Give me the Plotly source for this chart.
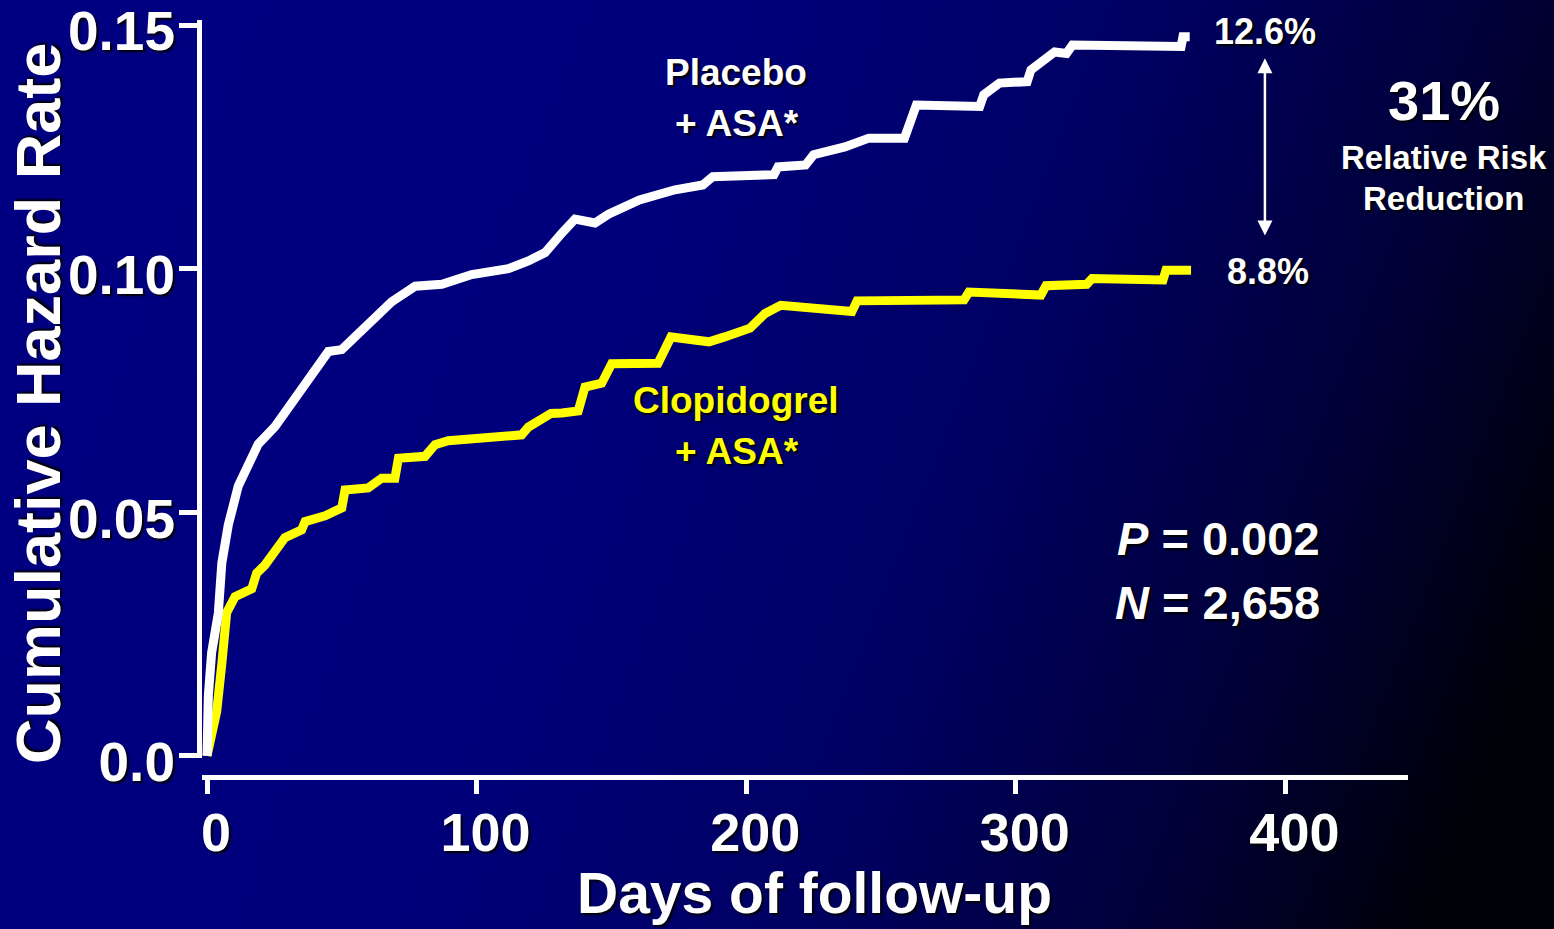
import base64
import plotly.graph_objects as go

# ---- data -------------------------------------------------------------
placebo_days = [0, 0.5, 1.7, 4.2, 5.5, 7.9, 11.6, 19.0, 25.2, 32.6, 45.0, 50.0,
                59.8, 68.5, 77.2, 87.1, 98.2, 106.8, 111.8, 119.2, 125.4, 131.6,
                136.5, 143.9, 148.9, 160.4, 173.6, 183.9, 187.6, 210.3, 211.8,
                222.0, 225.0, 236.6, 245.5, 258.7, 263.1, 286.6, 288.1, 293.9,
                304.2, 305.6, 310.0, 314.4, 318.8, 321.0, 361.3, 362.0, 364.5]
placebo_hazard = [0.0, 0.0124, 0.0211, 0.0293, 0.0396, 0.0474, 0.0554, 0.0640,
                  0.0676, 0.0733, 0.0830, 0.0834, 0.0887, 0.0932, 0.0964, 0.0968,
                  0.0988, 0.0996, 0.1000, 0.1016, 0.1033, 0.1073, 0.1102, 0.1094,
                  0.1112, 0.1141, 0.1162, 0.1172, 0.1189, 0.1193, 0.1209, 0.1213,
                  0.1234, 0.1250, 0.1268, 0.1268, 0.1336, 0.1333, 0.1357, 0.1381,
                  0.1384, 0.1408, 0.1428, 0.1445, 0.1442, 0.1459, 0.1456, 0.1476,
                  0.1476]

clopidogrel_days = [0, 3.6, 5.5, 7.3, 10.4, 16.6, 18.4, 21.5, 28.9, 35.1, 36.4,
                    43.8, 50.0, 51.2, 59.8, 64.8, 69.7, 71.0, 80.9, 84.6, 89.5,
                    104.3, 116.7, 119.2, 127.6, 131.6, 137.7, 140.2, 146.4, 150.1,
                    167.3, 172.1, 186.2, 192.0, 201.4, 207.0, 212.8, 239.2, 241.1,
                    280.8, 282.6, 309.3, 311.2, 326.3, 328.3, 354.6, 355.7, 365.0]
clopidogrel_hazard = [0.0, 0.0091, 0.0189, 0.0294, 0.0327, 0.0343, 0.0375, 0.0392,
                      0.0448, 0.0464, 0.0481, 0.0493, 0.0509, 0.0546, 0.0550,
                      0.0570, 0.0570, 0.0611, 0.0615, 0.0639, 0.0647, 0.0655,
                      0.0659, 0.0675, 0.0703, 0.0704, 0.0708, 0.0757, 0.0765,
                      0.0805, 0.0806, 0.0860, 0.0850, 0.0860, 0.0878, 0.0908,
                      0.0925, 0.0912, 0.0934, 0.0936, 0.0952, 0.0946, 0.0965,
                      0.0968, 0.0980, 0.0977, 0.0997, 0.0997]

x_ticks = [0, 100, 200, 300, 400]
x_tick_labels = ["0", "100", "200", "300", "400"]
y_ticks = [0.0, 0.05, 0.10, 0.15]
y_tick_labels = ["0.0", "0.05", "0.10", "0.15"]

event_rate_labels = ["12.6%", "8.8%"]
risk_reduction = "31%"
p_value = "0.002"
n_patients = "2,658"

# ---- styling ----------------------------------------------------------
W, H = 1554, 929
M_L, M_R, M_T, M_B = 202, 146, 20, 152
FAMILY = "Liberation Sans, Arial, Helvetica, sans-serif"
SHADOW = "2px 2px 2px rgba(0,0,0,0.95)"
WHITE = "#ffffff"
YELLOW = "#ffff00"
CURVE_WIDTH = 9


def font(size, color=WHITE):
    return dict(family=FAMILY, size=size, color=color, weight="bold", shadow=SHADOW)


# slide background: navy fading to black towards the lower right
bg_svg = (
    f'<svg xmlns="http://www.w3.org/2000/svg" width="{W}" height="{H}" '
    f'viewBox="0 0 {W} {H}" preserveAspectRatio="none">'
    '<defs><linearGradient id="g" gradientUnits="userSpaceOnUse" '
    f'x1="0" y1="0" x2="{W}" y2="600">'
    '<stop offset="0" stop-color="#000082"/>'
    '<stop offset="0.40" stop-color="#00007c"/>'
    '<stop offset="0.65" stop-color="#000062"/>'
    '<stop offset="0.85" stop-color="#000036"/>'
    '<stop offset="1" stop-color="#000008"/>'
    '</linearGradient></defs>'
    f'<rect width="{W}" height="{H}" fill="url(#g)"/></svg>'
)
bg_uri = "data:image/svg+xml;base64," + base64.b64encode(bg_svg.encode()).decode()

pw = W - M_L - M_R
ph = H - M_T - M_B


def px_x(px):
    """Horizontal pixel position -> paper fraction."""
    return (px - M_L) / pw


def px_y(py):
    """Vertical pixel position -> paper fraction."""
    return (H - M_B - py) / ph


fig = go.Figure()

fig.add_trace(go.Scatter(
    x=clopidogrel_days, y=clopidogrel_hazard, mode="lines",
    line=dict(color=YELLOW, width=CURVE_WIDTH), name="Clopidogrel + ASA*",
))
fig.add_trace(go.Scatter(
    x=placebo_days, y=placebo_hazard, mode="lines",
    line=dict(color=WHITE, width=CURVE_WIDTH), name="Placebo + ASA*",
))

# curve labels
fig.add_annotation(x=196.2, y=0.1402, text="Placebo", showarrow=False, font=font(37))
fig.add_annotation(x=196.6, y=0.1299, text="+ ASA*", showarrow=False, font=font(37))
fig.add_annotation(x=196.2, y=0.0730, text="Clopidogrel", showarrow=False,
                   font=font(37, YELLOW))
fig.add_annotation(x=196.6, y=0.0624, text="+ ASA*", showarrow=False,
                   font=font(37, YELLOW))

# end-of-follow-up event rates and the double arrow between them
fig.add_annotation(x=392.4, y=0.1486, text=event_rate_labels[0], showarrow=False,
                   font=font(36))
fig.add_annotation(x=393.6, y=0.0995, text=event_rate_labels[1], showarrow=False,
                   font=font(36))
fig.add_annotation(x=392.4, y=0.1432, ax=392.4, ay=0.1065, axref="x", ayref="y",
                   text="", showarrow=True, arrowside="end+start",
                   arrowhead=2, startarrowhead=2, arrowsize=1.2, startarrowsize=1.2,
                   arrowwidth=2.5, arrowcolor=WHITE)

# relative risk reduction block
for txt, cx, cy, size in [(risk_reduction, 1444, 101, 56),
                          ("Relative Risk", 1444, 157, 33),
                          ("Reduction", 1443, 198, 33)]:
    fig.add_annotation(x=px_x(cx), y=px_y(cy), xref="paper", yref="paper",
                       xanchor="center", yanchor="middle", text=txt,
                       showarrow=False, font=font(size))

# statistics
fig.add_annotation(x=413.6, y=0.0447, xanchor="right", text=f"<i>P</i> = {p_value}",
                   showarrow=False, font=font(47))
fig.add_annotation(x=413.6, y=0.0314, xanchor="right", text=f"<i>N</i> = {n_patients}",
                   showarrow=False, font=font(47))

# axis titles
fig.add_annotation(x=px_x(814), y=px_y(893), xref="paper", yref="paper",
                   xanchor="center", yanchor="middle", text="Days of follow-up",
                   showarrow=False, font=font(57))
fig.add_annotation(x=px_x(38), y=px_y(404), xref="paper", yref="paper",
                   xanchor="center", yanchor="middle", textangle=-90,
                   text="Cumulative Hazard Rate", showarrow=False, font=font(63))

y_dom0 = (H - M_B - 758) / ph

fig.update_layout(
    width=W, height=H,
    margin=dict(l=M_L, r=M_R, t=M_T, b=M_B, autoexpand=False),
    template="none",
    paper_bgcolor="#000060",
    plot_bgcolor="rgba(0,0,0,0)",
    showlegend=False,
    images=[dict(source=bg_uri, xref="paper", yref="paper",
                 x=-M_L / pw, y=1 + M_T / ph, sizex=W / pw, sizey=H / ph,
                 xanchor="left", yanchor="top", sizing="stretch", layer="below")],
    xaxis=dict(
        range=[-1.855, 445.47], domain=[0, 1], anchor="free", position=0,
        showline=True, linecolor=WHITE, linewidth=5,
        ticks="outside", ticklen=14, tickwidth=5, tickcolor=WHITE,
        tickvals=x_ticks, ticktext=x_tick_labels, tickfont=font(54),
        ticklabelshift=9, ticklabelstandoff=-8, ticklabeloverflow="allow",
        showgrid=False, zeroline=False,
    ),
    yaxis=dict(
        range=[-0.00043, 0.15105], domain=[y_dom0, 1], anchor="x",
        showline=True, linecolor=WHITE, linewidth=5,
        ticks="outside", ticklen=18, tickwidth=5, tickcolor=WHITE,
        tickvals=y_ticks, ticktext=y_tick_labels, tickfont=font(55),
        ticklabelshift=6, ticklabelstandoff=-7, ticklabeloverflow="allow",
        showgrid=False, zeroline=False,
    ),
)

fig.write_html("out.html")
